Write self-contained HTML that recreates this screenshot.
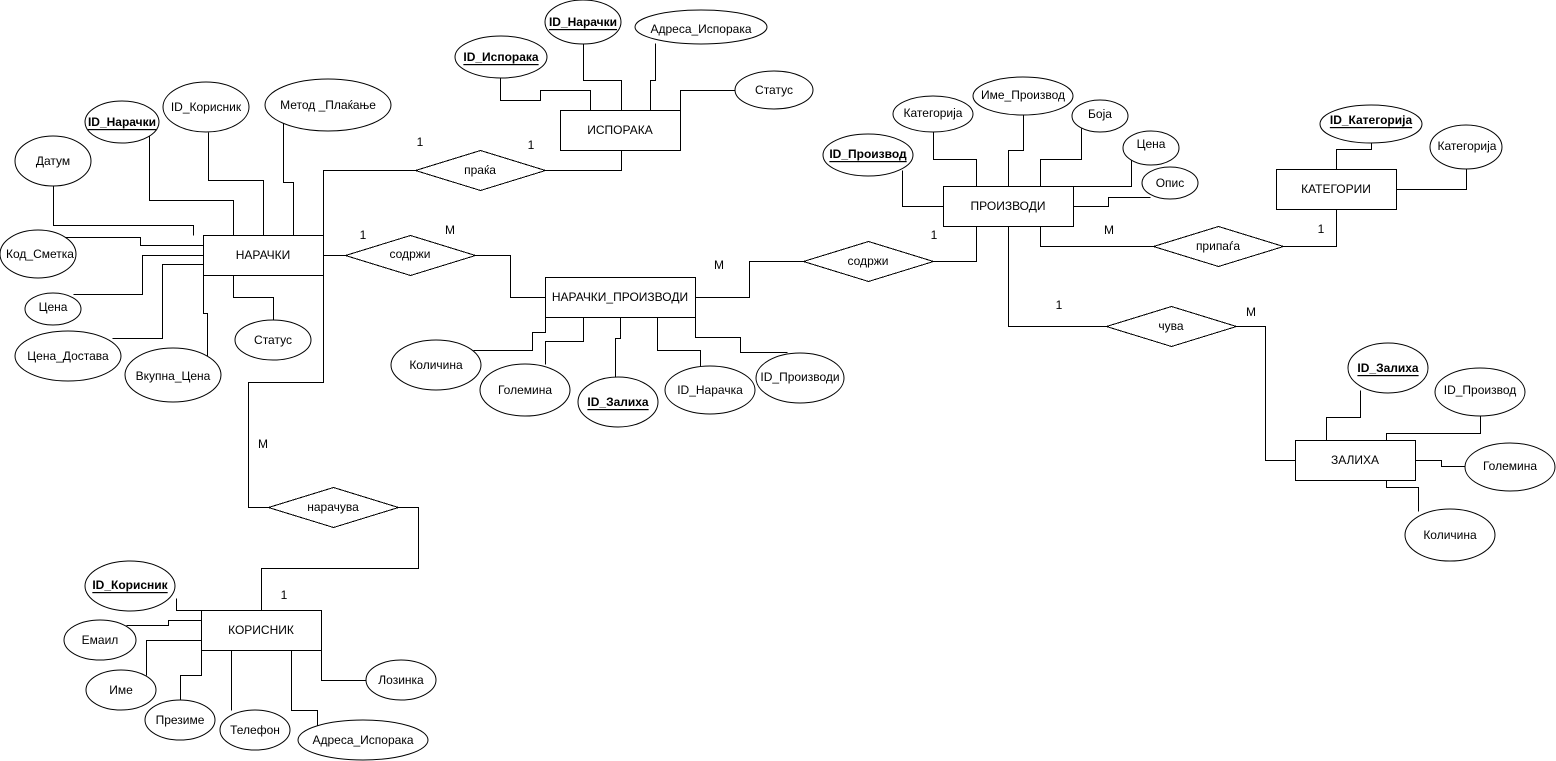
<!DOCTYPE html>
<html><head><meta charset="utf-8"><style>
html,body{margin:0;padding:0;background:#fff;}
svg{display:block;}
text{font-family:"Liberation Sans",Arial,sans-serif;font-size:12px;fill:#000;}
.k{font-weight:bold;text-decoration:underline;}
</style></head><body>
<svg width="1556" height="761" viewBox="0 0 1556 761" xmlns="http://www.w3.org/2000/svg">
<rect width="1556" height="761" fill="#fff"/>
<g transform="translate(0.5,0.5)" fill="none" stroke="#000" stroke-width="1" shape-rendering="crispEdges">
<!-- НАРАЧКИ connectors -->
<polyline points="53,186 53,225 193,225 193,235"/>
<polyline points="149,135 149,200 233,200 233,235"/>
<polyline points="208,132 208,180 263,180 263,235"/>
<polyline points="283,123 283,182 293,182 293,235"/>
<polyline points="65,237 140,237 140,245 203,245"/>
<polyline points="73,294 142,294 142,255 203,255"/>
<polyline points="112,338 162,338 162,264 203,264"/>
<polyline points="207,358 207,313 203,313 203,275"/>
<polyline points="273,320 273,297 233,297 233,275"/>
<polyline points="415,170 323,170 323,382 248,382 248,507 268,507"/>
<polyline points="323,255 345,255"/>
<!-- ИСПОРАКА -->
<polyline points="500,78 500,100 540,100 540,90 590,90 590,110"/>
<polyline points="583,44 583,80 621,80 621,110"/>
<polyline points="655,43 655,80 650,80 650,110"/>
<polyline points="735,90 680,90 680,110"/>
<polyline points="545,170 621,170 621,150"/>
<!-- НАРАЧКИ_ПРОИЗВОДИ -->
<polyline points="475,255 510,255 510,297 545,297"/>
<polyline points="695,297 749,297 749,261 803,261"/>
<polyline points="473,350 532,350 532,332 545,332 545,317"/>
<polyline points="545,364 545,341 583,341 583,317"/>
<polyline points="615,377 615,338 620,338 620,317"/>
<polyline points="700,366 700,350 657,350 657,317"/>
<polyline points="787,352 740,352 740,337 695,337 695,317"/>
<!-- ПРОИЗВОДИ -->
<polyline points="933,261 976,261 976,226"/>
<polyline points="902,170 902,206 943,206"/>
<polyline points="933,132 933,159 976,159 976,186"/>
<polyline points="1023,115 1023,150 1008,150 1008,186"/>
<polyline points="1081,128 1081,159 1040,159 1040,186"/>
<polyline points="1131,157 1131,186 1073,186"/>
<polyline points="1150,197 1108,197 1108,206 1073,206"/>
<polyline points="1040,226 1040,246 1153,246"/>
<polyline points="1008,226 1008,326 1106,326"/>
<!-- КАТЕГОРИИ -->
<polyline points="1283,246 1336,246 1336,209"/>
<polyline points="1371,143 1371,149 1336,149 1336,169"/>
<polyline points="1466,169 1466,189 1396,189"/>
<!-- ЗАЛИХА -->
<polyline points="1236,326 1265,326 1265,460 1295,460"/>
<polyline points="1360,390 1360,417 1326,417 1326,440"/>
<polyline points="1480,416 1480,433 1386,433 1386,440"/>
<polyline points="1465,466 1441,466 1441,460 1415,460"/>
<polyline points="1418,511 1418,487 1386,487 1386,480"/>
<!-- КОРИСНИК -->
<polyline points="398,507 418,507 418,568 261,568 261,610"/>
<polyline points="176,598 176,610 201,610"/>
<polyline points="126,625 168,625 168,620 201,620"/>
<polyline points="146,675 146,640 201,640"/>
<polyline points="180,701 180,675 201,675 201,650"/>
<polyline points="231,710 231,650"/>
<polyline points="317,725 317,710 291,710 291,650"/>
<polyline points="366,680 321,680 321,650"/>
<!-- entities -->
<g fill="#fff">
<rect x="203" y="235" width="120" height="40"/>
<rect x="560" y="110" width="120" height="40"/>
<rect x="545" y="277" width="150" height="40"/>
<rect x="943" y="186" width="130" height="40"/>
<rect x="1276" y="169" width="120" height="40"/>
<rect x="1295" y="440" width="120" height="40"/>
<rect x="201" y="610" width="120" height="40"/>
<!-- diamonds -->
<polygon points="415,170 480,150 545,170 480,190"/>
<polygon points="345,255 410,235 475,255 410,275"/>
<polygon points="803,261 868,241 933,261 868,281"/>
<polygon points="1153,246 1218,226 1283,246 1218,266"/>
<polygon points="1106,326 1171,306 1236,326 1171,346"/>
<polygon points="268,507 333,487 398,507 333,527"/>
</g>
</g>
<!-- ellipses -->
<g fill="#fff" stroke="#000" stroke-width="1">
<ellipse cx="122" cy="122" rx="37" ry="21"/>
<ellipse cx="206" cy="107" rx="43" ry="25"/>
<ellipse cx="328" cy="105" rx="63" ry="26"/>
<ellipse cx="53" cy="161" rx="38" ry="25"/>
<ellipse cx="38" cy="254" rx="38" ry="24"/>
<ellipse cx="53" cy="309" rx="28" ry="16"/>
<ellipse cx="68" cy="356" rx="53" ry="25"/>
<ellipse cx="173" cy="375" rx="48" ry="27"/>
<ellipse cx="273" cy="340" rx="38" ry="20"/>
<ellipse cx="501" cy="57" rx="46" ry="21"/>
<ellipse cx="583" cy="22" rx="38" ry="22"/>
<ellipse cx="701" cy="27" rx="66" ry="17"/>
<ellipse cx="774" cy="90" rx="39" ry="19"/>
<ellipse cx="436" cy="365" rx="45" ry="25"/>
<ellipse cx="525" cy="390" rx="45" ry="26"/>
<ellipse cx="618" cy="402" rx="40" ry="25"/>
<ellipse cx="710" cy="390" rx="45" ry="24"/>
<ellipse cx="800" cy="378" rx="44" ry="25"/>
<ellipse cx="868" cy="155" rx="45" ry="21"/>
<ellipse cx="933" cy="114" rx="40" ry="18"/>
<ellipse cx="1023" cy="96" rx="50" ry="19"/>
<ellipse cx="1100" cy="116" rx="28" ry="16"/>
<ellipse cx="1151" cy="148" rx="28" ry="17"/>
<ellipse cx="1170" cy="183" rx="28" ry="16"/>
<ellipse cx="1371" cy="124" rx="51" ry="19"/>
<ellipse cx="1466" cy="147" rx="36" ry="22"/>
<ellipse cx="1388" cy="368" rx="40" ry="25"/>
<ellipse cx="1480" cy="392" rx="45" ry="24"/>
<ellipse cx="1510" cy="467" rx="45" ry="24"/>
<ellipse cx="1450" cy="535" rx="45" ry="26"/>
<ellipse cx="130" cy="586" rx="45" ry="25"/>
<ellipse cx="100" cy="640" rx="36" ry="20"/>
<ellipse cx="121" cy="690" rx="35" ry="20"/>
<ellipse cx="180" cy="720" rx="35" ry="20"/>
<ellipse cx="255" cy="730" rx="35" ry="20"/>
<ellipse cx="363" cy="740" rx="65" ry="20"/>
<ellipse cx="401" cy="680" rx="35" ry="20"/>
</g>
<g text-anchor="middle" dominant-baseline="central">
<!-- entity labels -->
<text x="263" y="255">НАРАЧКИ</text>
<text x="620" y="130">ИСПОРАКА</text>
<text x="620" y="297">НАРАЧКИ_ПРОИЗВОДИ</text>
<text x="1008" y="206">ПРОИЗВОДИ</text>
<text x="1336" y="189">КАТЕГОРИИ</text>
<text x="1355" y="460">ЗАЛИХА</text>
<text x="261" y="630">КОРИСНИК</text>
<!-- relationship labels -->
<text x="480" y="170">праќа</text>
<text x="410" y="254">содржи</text>
<text x="868" y="261">содржи</text>
<text x="1218" y="246">припаѓа</text>
<text x="1171" y="326">чува</text>
<text x="333" y="507">нарачува</text>
<!-- cardinalities -->
<text x="420" y="142">1</text>
<text x="531" y="145">1</text>
<text x="363" y="235">1</text>
<text x="450" y="230">M</text>
<text x="719" y="265">M</text>
<text x="934" y="235">1</text>
<text x="1109" y="230">M</text>
<text x="1321" y="229">1</text>
<text x="1059" y="305">1</text>
<text x="1251" y="312">M</text>
<text x="263" y="444">M</text>
<text x="284" y="595">1</text>
<!-- attributes -->
<text x="122" y="122" class="k">ID_Нарачки</text>
<text x="206" y="107">ID_Корисник</text>
<text x="328" y="105">Метод _Плаќање</text>
<text x="53" y="161">Датум</text>
<text x="40" y="254">Код_Сметка</text>
<text x="53" y="307">Цена</text>
<text x="68" y="356">Цена_Достава</text>
<text x="173" y="376">Вкупна_Цена</text>
<text x="273" y="340">Статус</text>
<text x="501" y="57" class="k">ID_Испорака</text>
<text x="583" y="22" class="k">ID_Нарачки</text>
<text x="701" y="29">Адреса_Испорака</text>
<text x="774" y="90">Статус</text>
<text x="436" y="365">Количина</text>
<text x="525" y="390">Големина</text>
<text x="618" y="402" class="k">ID_Залиха</text>
<text x="710" y="390">ID_Нарачка</text>
<text x="800" y="377">ID_Производи</text>
<text x="868" y="154" class="k">ID_Производ</text>
<text x="933" y="113">Категорија</text>
<text x="1023" y="95">Име_Производ</text>
<text x="1100" y="114">Боја</text>
<text x="1151" y="144">Цена</text>
<text x="1170" y="183">Опис</text>
<text x="1371" y="120" class="k">ID_Категорија </text>
<text x="1467" y="146">Категорија</text>
<text x="1388" y="368" class="k">ID_Залиха</text>
<text x="1480" y="390">ID_Производ</text>
<text x="1510" y="466">Големина</text>
<text x="1450" y="535">Количина</text>
<text x="130" y="585" class="k">ID_Корисник</text>
<text x="100" y="640">Емаил</text>
<text x="121" y="690">Име</text>
<text x="180" y="720">Презиме</text>
<text x="255" y="730">Телефон</text>
<text x="363" y="740">Адреса_Испорака</text>
<text x="401" y="680">Лозинка</text>
</g>
</svg>
</body></html>
